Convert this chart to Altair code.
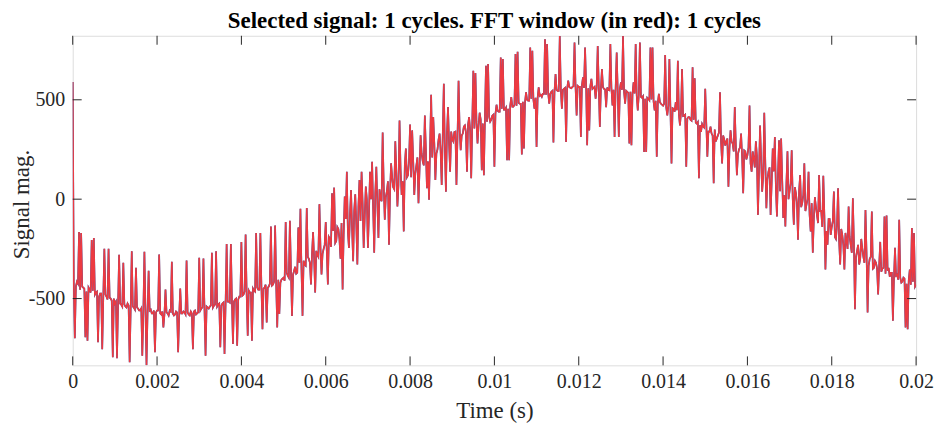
import altair as alt
import pandas as pd

TITLE = "Selected signal: 1 cycles. FFT window (in red): 1 cycles"
DT = 0.00005  # sample spacing of the main readings (s)

# readings at t = i*DT (spikes and band points)
seg_a = [
    590, -700, -415, -165, -170, -445, -695, -712, -455, -205, -195, -470, -720, -475, -755, -250, -490, -250, -500, -795,
    -525, -800, -280, -530, -320, -540, -525, -820, -262, -545, -345, -550, -560, -787, -265, -836, -360, -555, -575, -770,
    -560, -278, -580, -645, -455, -575, -560, -315, -585, -565, -770, -450, -575, -570, -308, -580, -565, -755, -560, -575,
    -295, -550, -298, -787, -545, -540, -270, -535, -262, -530, -745, -525, -779, -225, -515, -225, -729, -505, -737, -490,
    -215, -480, -178, -687, -470, -712, -460, -170, -455, -170, -654, -445, -620, -440, -137, -430, -132, -645, -578, -405,
]
seg_b = [
    -395, -115, -385, -109, -587, -360, -375, -142, -48, -587, -330, -45, -300, -429, -165, -470, -280, -25, -379, -250,
    -115, -429, -200, 30, 58, -210, -150, -300, -454, 13, 138, -245, 46, -312, 25, -329, 96, 138, -245, 63,
    -245, 138, 188, -270, 163, -195, 0, 335, -103, 40, -229, 180, 60, 291, -37, 396, 21, -162, 255, 120,
    375, 346, 21, 170, -20, 321, 190, 421, 55, -3, 525, 413, 96, 250, 330, 71, 580, 38, 463, 138,
    300, 338, 71, 596, 246, 330, 371, 138, 413, 105, 646, 635, 280, 435, 146, 121, 671, 680, 390, 420,
]
seg_c = [
    163, 475, 440, 713, 705, 450, 196, 196, 513, 465, 730, 741, 480, 225, 255, 538, 495, 763, 746, 455,
    263, 563, 525, 530, 805, 780, 480, 540, 285, 630, 545, 821, 455, 555, 288, 596, 560, 565, 788, 421,
    565, 313, 613, 763, 271, 346, 605, 560, 505, 771, 363, 655, 555, 463, 550, 780, 471, 313, 738, 313,
    588, 821, 480, 540, 280, 271, 588, 780, 446, 788, 510, 238, 238, 505, 763, 763, 446, 213, 530, 480,
    470, 725, 421, 705, 180, 455, 488, 696, 371, 655, 420, 163, 413, 400, 663, 608, 380, 105, 338, 365,
]
seg_d = [
    555, 213, 340, 330, 80, 290, 320, 538, 180, 300, 290, 63, 346, 280, 463, 121, 250, 330, 30, 240,
    220, 471, 138, 205, 291, -79, 371, 38, 435, -45, 140, -79, 255, 313, -87, 296, 305, -95, -137, 241,
    40, 246, -128, 30, -204, 121, -20, 180, -29, 138, -162, -270, 10, -80, 121, -60, 118, -354, -229, -100,
    -140, 38, -200, 55, -329, -180, -354, -210, -37, -230, 5, -554, -260, -329, -200, -290, -54, -570, -300, -62,
    -345, -320, -479, -215, -350, -87, -82, -345, -370, -612, -245, -380, -103, -420, -395, -645, -654, -354, -145, -170,
    -430,
]

# band readings half-way between the readings above, t = (i + 0.5)*DT
mid_a = [
    -420, -440, -425, -455, -440, -450, -465, -445, -470, -460, -480, -465, -490, -475, -495, -480, -505, -495, -510, -500,
    -515, -535, -525, -540, -530, -545, -535, -550, -540, -555, -545, -560, -550, -565, -555, -570, -560, -575, -560, -570,
    -560, -575, -565, -580, -570, -585, -565, -575, -580, -570, -585, -575, -565, -580, -570, -585, -575, -565, -580, -570,
    -560, -545, -555, -540, -550, -535, -545, -530, -540, -525, -535, -520, -530, -515, -520, -505, -515, -500, -505, -490,
    -485, -465, -480, -460, -470, -450, -465, -445, -455, -440, -450, -430, -445, -425, -435, -415, -430, -405, -420, -400,
]
mid_b = [
    -410, -370, -395, -355, -380, -340, -370, -320, -355, -310, -335, -290, -320, -275, -300, -260, -290, -240, -275, -230,
    -260, -190, -240, -160, -220, -140, -200, -120, -180, -100, -160, -80, -150, -60, -130, -40, -110, -20, -90, 0,
    -80, 0, -50, 30, -30, 50, -10, 70, 10, 90, 30, 110, 50, 130, 70, 150, 90, 170, 110, 190,
    110, 190, 130, 210, 150, 230, 170, 250, 190, 270, 210, 280, 230, 300, 240, 320, 260, 330, 280, 340,
    290, 340, 310, 355, 320, 365, 335, 375, 345, 385, 355, 390, 370, 400, 380, 405, 390, 415, 400, 425,
]
mid_c = [
    430, 445, 440, 455, 450, 460, 455, 470, 465, 475, 470, 485, 480, 490, 485, 500, 495, 505, 500, 510,
    510, 520, 515, 530, 525, 535, 530, 545, 540, 550, 545, 555, 550, 560, 555, 565, 558, 568, 560, 570,
    565, 572, 560, 570, 558, 568, 555, 565, 560, 570, 555, 563, 552, 562, 548, 560, 550, 558, 545, 555,
    550, 540, 545, 535, 540, 528, 532, 520, 525, 515, 518, 505, 510, 498, 502, 490, 495, 482, 488, 475,
    480, 462, 470, 450, 458, 440, 448, 428, 435, 418, 425, 405, 412, 395, 400, 385, 388, 372, 378, 360,
]
mid_d = [
    380, 340, 365, 320, 350, 305, 335, 290, 320, 270, 305, 255, 290, 240, 275, 225, 260, 210, 245, 200,
    260, 180, 240, 160, 220, 140, 200, 120, 180, 100, 160, 80, 140, 60, 120, 40, 100, 20, 80, 0,
    80, 0, 60, -20, 40, -40, 20, -60, 0, -80, -20, -100, -40, -120, -60, -140, -80, -160, -100, -180,
    -110, -190, -130, -210, -150, -230, -170, -250, -190, -270, -210, -290, -230, -300, -250, -320, -270, -335, -290, -350,
    -310, -350, -330, -365, -345, -375, -360, -390, -370, -400, -385, -405, -395, -415, -400, -425, -410, -430, -415, -440,
]

x_ticks = [0, 0.002, 0.004, 0.006, 0.008, 0.01, 0.012, 0.014, 0.016, 0.018, 0.02]
y_ticks = [-500, 0, 500]

main_vals = seg_a + seg_b + seg_c + seg_d
mid_vals = mid_a + mid_b + mid_c + mid_d
rows = [(i * DT, v) for i, v in enumerate(main_vals)] + \
       [((i + 0.5) * DT, v) for i, v in enumerate(mid_vals)]
df = pd.DataFrame(rows, columns=["t", "v"]).sort_values("t").reset_index(drop=True)
df["o"] = range(len(df))
xt = pd.DataFrame({"t": x_ticks})
yt = pd.DataFrame({"v": y_ticks})

W, H = 847, 331
FONT = "Liberation Serif"
AX = "#262626"

xscale = alt.Scale(domain=[0, 0.02], nice=False, zero=False)
yscale = alt.Scale(domain=[-836, 822], nice=False, zero=False)

xaxis = alt.Axis(values=x_ticks, format=".3~f", ticks=False, domain=False, grid=False,
                 labelFont=FONT, labelFontSize=20, labelColor=AX, labelPadding=6,
                 labelFlush=False, labelOverlap=False,
                 title="Time (s)", titleFont=FONT, titleFontSize=23, titleFontWeight="normal",
                 titleColor=AX, titleY=52, titleBaseline="alphabetic")
yaxis = alt.Axis(values=y_ticks, labelExpr="toString(datum.value)", ticks=False, domain=False,
                 grid=False, labelFont=FONT, labelFontSize=20, labelColor=AX, labelPadding=8,
                 title="Signal mag.", titleFont=FONT, titleFontSize=23, titleFontWeight="normal",
                 titleColor=AX, titleX=-51, titleY=169, titleBaseline="middle", titleAngle=270)

base = alt.Chart(df)
blue = base.mark_line(color="#1F57B0", strokeWidth=1.7, clip=True).encode(
    x=alt.X("t:Q", scale=xscale, axis=xaxis),
    y=alt.Y("v:Q", scale=yscale, axis=yaxis),
    order="o:Q",
)
red = base.mark_line(color="#EC3A41", strokeWidth=1.6, clip=True).encode(
    x=alt.X("t:Q", scale=xscale),
    y=alt.Y("v:Q", scale=yscale),
    order="o:Q",
)

tk = 9
xb = alt.Chart(xt).mark_rule(color=AX, strokeWidth=1).encode(
    x=alt.X("t:Q", scale=xscale), y=alt.value(H), y2=alt.value(H - tk))
xtop = alt.Chart(xt).mark_rule(color=AX, strokeWidth=1).encode(
    x=alt.X("t:Q", scale=xscale), y=alt.value(0), y2=alt.value(tk))
yl = alt.Chart(yt).mark_rule(color=AX, strokeWidth=1).encode(
    y=alt.Y("v:Q", scale=yscale), x=alt.value(0), x2=alt.value(tk))
yr = alt.Chart(yt).mark_rule(color=AX, strokeWidth=1).encode(
    y=alt.Y("v:Q", scale=yscale), x=alt.value(W), x2=alt.value(W - tk))

chart = alt.layer(blue, red, xb, xtop, yl, yr).properties(
    width=W, height=H,
    title=alt.TitleParams(TITLE, font=FONT, fontSize=23, fontWeight="bold", color="black",
                          anchor="middle", offset=2),
    autosize=alt.AutoSizeParams(type="none"),
    padding={"left": 65, "top": 27, "right": 20, "bottom": 57},
).configure_view(stroke=AX, strokeWidth=1).configure(background="white")

chart.save("out.html", embed_options={"renderer": "svg", "actions": False})
